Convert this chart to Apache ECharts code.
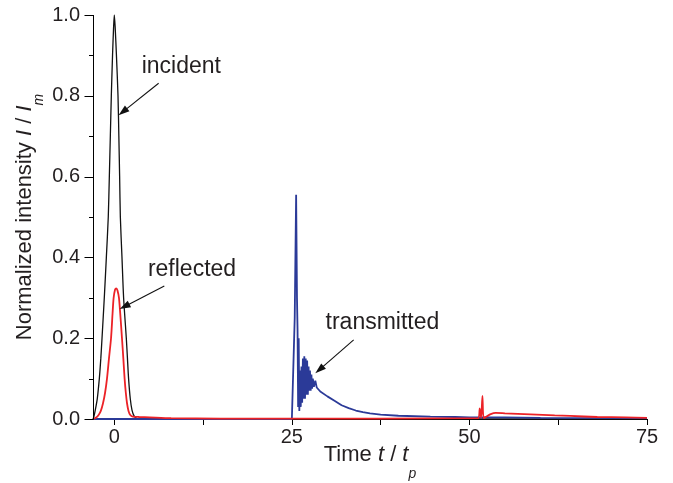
<!DOCTYPE html>
<html><head><meta charset="utf-8">
<script src="https://cdn.jsdelivr.net/npm/echarts@6/dist/echarts.min.js"></script>
<style>html,body{margin:0;padding:0;background:#fff}#c{width:673px;height:483px}</style>
</head><body><div id="c"></div>
<script>
// ---- data (time t/tp, normalized intensity) ----
const incidentData = [[-3,0],[-2.9,0.004],[-2.68,0.022],[-2.4,0.05],[-2.11,0.1],[-1.9,0.15],[-1.73,0.2],[-1.41,0.3],[-1.12,0.4],[-0.85,0.5],[-0.7,0.6],[-0.56,0.7],[-0.42,0.8],[-0.25,0.9],[-0.1,0.97],[0,1.0],[0.12,0.97],[0.3,0.9],[0.52,0.8],[0.64,0.7],[0.75,0.6],[0.85,0.5],[1.08,0.4],[1.31,0.3],[1.69,0.2],[1.85,0.15],[2.01,0.1],[2.25,0.05],[2.49,0.022],[2.8,0.007],[3.2,0.001],[4,0],[75,0]];
const reflectedData = [[-3,0],[-2.6,0.003],[-2.21,0.01],[-1.9,0.02],[-1.59,0.039],[-1.3,0.065],[-1.03,0.1],[-0.75,0.15],[-0.46,0.2],[-0.25,0.26],[-0.1,0.299],[0.1,0.32],[0.28,0.3235],[0.45,0.318],[0.66,0.299],[0.88,0.25],[1.08,0.2],[1.27,0.15],[1.45,0.1],[1.62,0.065],[1.79,0.039],[2.0,0.02],[2.25,0.01],[2.6,0.006],[3.5,0.005],[5,0.004],[8,0.002],[15,0.001],[25,0.001],[51.2,0.002],[51.45,0.026],[51.65,0.003],[51.83,0.057],[52.0,0.002],[52.4,0.006],[53,0.012],[53.7,0.015],[55,0.014],[58.6,0.0115],[62,0.009],[64.2,0.0075],[68,0.005],[72,0.004],[75,0.003]];
const transmittedData = [[-3,0],[25.0,0],[25.2,0.002],[25.4,0.25],[25.6,0.555],[25.72,0.3],[25.8,0.22],[25.88,0.03],[25.96,0.2],[26.05,0.02],[26.15,0.12],[26.25,0.03],[26.35,0.13],[26.45,0.04],[26.55,0.15],[26.65,0.05],[26.75,0.155],[26.85,0.05],[26.95,0.15],[27.05,0.06],[27.15,0.145],[27.25,0.06],[27.35,0.13],[27.45,0.07],[27.55,0.12],[27.65,0.07],[27.75,0.11],[27.85,0.075],[27.95,0.1],[28.1,0.08],[28.3,0.095],[28.5,0.078],[29,0.068],[30,0.056],[31,0.045],[32,0.034],[33,0.027],[34,0.021],[35,0.017],[36,0.014],[37.5,0.011],[40,0.008],[44.5,0.006],[48,0.005],[50,0.004],[55,0.004],[60,0.003],[75,0.002]];
const xLabelValues = [0,25,50,75];
const xTickValues = [0,12.5,25,37.5,50,62.5,75];
const yMajorTickValues = [0,0.2,0.4,0.6,0.8,1.0];
const yMinorTickValues = [0.1,0.3,0.5,0.7,0.9];
const annotationTexts = ['incident','reflected','transmitted'];
const annotationTextAt = [[9.44,0.871],[10.94,0.369],[37.75,0.238]];
const annotationArrowFrom = [[6.24,0.831],[7.04,0.329],[33.7,0.196]];
const annotationArrowTo = [[0.6,0.752],[0.75,0.272],[28.3,0.113]];

const X_MIN = -3, X_MAX = 75, Y_MIN = 0, Y_MAX = 1;
const FONT = '"Liberation Sans", Arial, Helvetica, sans-serif';
const TXT = '#231f20';
function titleRich(subPad){
  return {
    n:{fontSize:22,fontFamily:FONT,color:TXT,lineHeight:24},
    i:{fontSize:22,fontFamily:FONT,fontStyle:'italic',color:TXT,lineHeight:24},
    s:{fontSize:14,fontFamily:FONT,fontStyle:'italic',color:TXT,lineHeight:16,verticalAlign:'top',padding:[subPad,0,0,0]}
  };
}
const chart = echarts.init(document.getElementById('c'), null, {renderer:'canvas'});
chart.setOption({
  animation:false,
  backgroundColor:'#fff',
  grid:{left:93,right:26,top:15,bottom:64,containLabel:false,outerBoundsMode:'none'},
  xAxis:{
    type:'value',min:X_MIN,max:X_MAX,
    axisLine:{show:true,onZero:false,lineStyle:{color:'#000',width:1}},
    axisTick:{show:true,length:6,customValues:xTickValues,lineStyle:{color:'#000'}},
    axisLabel:{customValues:xLabelValues,fontSize:20,fontFamily:FONT,color:TXT,margin:8},
    splitLine:{show:false},
    name:'{n|Time }{i|t}{n| / }{i|t}{s|p}',nameLocation:'middle',nameGap:23.5,nameMoveOverlap:false,
    nameTextStyle:{rich:titleRich(25)}
  },
  yAxis:{
    type:'value',min:Y_MIN,max:Y_MAX,interval:0.2,
    axisLine:{show:false,onZero:false},
    axisTick:{show:false},
    axisLabel:{fontSize:20,fontFamily:FONT,color:TXT,margin:13,formatter:v=>v.toFixed(1)},
    splitLine:{show:false},
    name:'{n|Normalized intensity }{i|I}{n| / }{i|I}{s|m}',nameLocation:'middle',nameGap:56,nameRotate:90,nameMoveOverlap:false,
    nameTextStyle:{rich:titleRich(19)}
  },
  series:[
    {name:'incident',type:'line',data:incidentData,showSymbol:false,smooth:0.25,lineStyle:{color:'#111',width:1.3},z:2},
    {name:'transmitted',type:'line',data:transmittedData,showSymbol:false,lineStyle:{color:'#2b3a98',width:1.8},z:3},
    {name:'reflected',type:'line',data:reflectedData,showSymbol:false,smooth:0.25,lineStyle:{color:'#ec2227',width:1.8},z:4}
  ]
});

function drawOverlay(){
  const els = [];
  // left axis line and ticks, placed through the chart's own scales
  const p0 = chart.convertToPixel({gridIndex:0},[X_MIN,Y_MIN]);
  const p1 = chart.convertToPixel({gridIndex:0},[X_MIN,Y_MAX]);
  const ax = Math.round(p0[0]) + 0.5;
  els.push({type:'line',shape:{x1:ax,y1:p0[1]+0.5,x2:ax,y2:p1[1]},style:{stroke:'#000',lineWidth:1},z:5});
  yMajorTickValues.forEach(v=>{
    const y = Math.round(chart.convertToPixel({gridIndex:0},[X_MIN,v])[1]) + 0.5;
    els.push({type:'line',shape:{x1:ax-9,y1:y,x2:ax,y2:y},style:{stroke:'#000',lineWidth:1},z:5});
  });
  yMinorTickValues.forEach(v=>{
    const y = Math.round(chart.convertToPixel({gridIndex:0},[X_MIN,v])[1]) + 0.5;
    els.push({type:'line',shape:{x1:ax-4.5,y1:y,x2:ax,y2:y},style:{stroke:'#000',lineWidth:1},z:5});
  });
  for (let k=0;k<annotationTexts.length;k++){
    const tp = chart.convertToPixel({gridIndex:0}, annotationTextAt[k]);
    const a = chart.convertToPixel({gridIndex:0}, annotationArrowFrom[k]);
    const b = chart.convertToPixel({gridIndex:0}, annotationArrowTo[k]);
    els.push({type:'text',x:tp[0],y:tp[1],style:{text:annotationTexts[k],font:'23px '+FONT,fill:TXT,align:'center',verticalAlign:'middle'},z:10});
    const dx=b[0]-a[0], dy=b[1]-a[1], L=Math.hypot(dx,dy), ux=dx/L, uy=dy/L;
    const hl=11, hw=3.6;
    const bx=b[0]-ux*hl, by=b[1]-uy*hl;
    els.push({type:'line',shape:{x1:a[0],y1:a[1],x2:bx+ux*2,y2:by+uy*2},style:{stroke:'#111',lineWidth:1.1},z:10});
    els.push({type:'polygon',shape:{points:[[b[0],b[1]],[bx-uy*hw,by+ux*hw],[bx+uy*hw,by-ux*hw]]},style:{fill:'#111'},z:10});
  }
  chart.setOption({graphic:els});
}
drawOverlay();
</script></body></html>
